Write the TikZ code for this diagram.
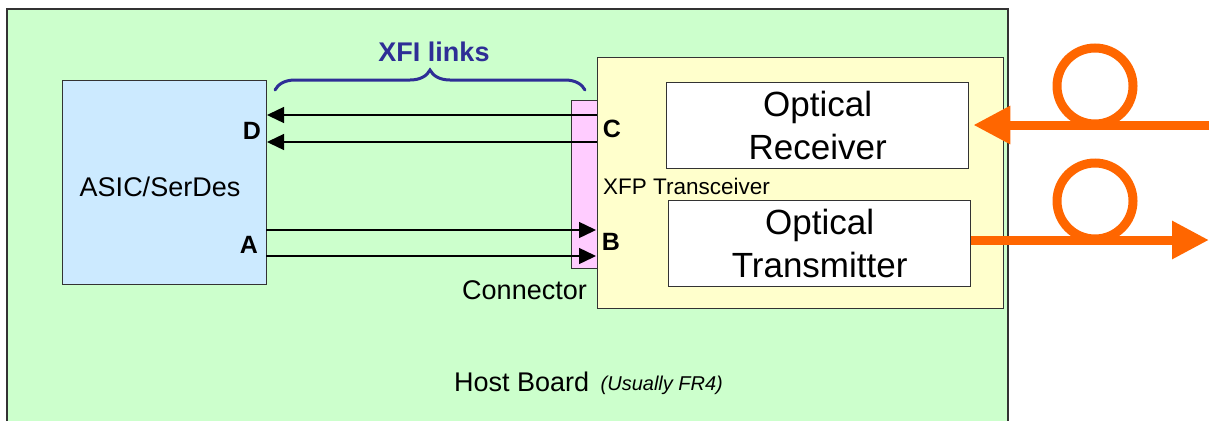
\documentclass[tikz,border=0pt]{standalone}
\usepackage{fontspec}
\setmainfont{Liberation Sans}
\usetikzlibrary{positioning,calc}
\usetikzlibrary{arrows.meta,decorations.pathreplacing}
\definecolor{BoardGreen}{RGB}{204,255,204}
\definecolor{AsicBlue}{RGB}{204,234,255}
\definecolor{ConnPink}{RGB}{255,204,255}
\definecolor{XfpYellow}{RGB}{255,255,204}
\definecolor{FiberOrange}{RGB}{255,102,0}
\definecolor{LinkBlue}{RGB}{46,46,150}
\tikzset{
  block/.style={draw=black!80,line width=1.3pt,inner sep=0pt,anchor=north west},
  optbox/.style={block,fill=white,align=center,font=\fontsize{35}{43}\selectfont},
  lab/.style={inner sep=0pt,font=\fontsize{25}{30}\selectfont\bfseries},
  txt/.style={inner sep=0pt,font=\fontsize{27}{32}\selectfont},
  link/.style={draw=black,line width=1.4pt,-{Triangle[length=17pt,width=16pt]}},
  fiber/.style={draw=FiberOrange,line width=9pt},
}
\tikzset{fibertip/.style={fiber,-{Triangle[length=37pt,width=36pt]}}}

\begin{document}
\begin{tikzpicture}[x=1pt,y=-1pt]
\useasboundingbox (0,0) rectangle (1214,421);
% host board, open at the bottom
\fill[BoardGreen] (7,9) rectangle (1008,421);
\draw[black!80,line width=1.3pt] (7,421) -- (7,9) -- (1008,9) -- (1008,421);
\node[txt,anchor=west] (host) at (454,382) {Host Board};
\node[inner sep=0pt,font=\fontsize{20}{24}\selectfont\itshape,right=11pt of host.east,yshift=-3pt] (fr4) {(Usually FR4)};
% blocks
\node[block,fill=AsicBlue,minimum width=204pt,minimum height=204pt] (asic) at (62,80) {};
\node[txt] (asiclab) at (160,187) {ASIC/SerDes};
\node[block,fill=XfpYellow,minimum width=406pt,minimum height=251pt] (xfp) at (597,57) {};
\node[block,fill=ConnPink,minimum width=26pt,minimum height=168pt] (conn) at (571,100) {};
\node[txt,anchor=east] (connlab) at (587,290) {Connector};
\node[inner sep=0pt,font=\fontsize{22.5}{27}\selectfont,anchor=west] (xfplab) at (603,186) {XFP Transceiver};
\node[optbox,minimum width=302pt,minimum height=86pt] (rx) at (666,82) {Optical\\Receiver};
\node[optbox,minimum width=302pt,minimum height=86pt] (tx) at (668,200) {Optical\\Transmitter};
% port letters
\node[lab] (pD) at (252,131) {D};
\node[lab] (pA) at (249,245) {A};
\node[lab] (pC) at (612,129) {C};
\node[lab] (pB) at (611,242) {B};
% XFI links
\coordinate (c1) at (597,115);
\coordinate (c2) at (597,142);
\coordinate (d1) at (267,115);
\coordinate (d2) at (267,142);
\coordinate (a1) at (266,230);
\coordinate (a2) at (266,256);
\coordinate (b1) at (596,230);
\coordinate (b2) at (596,256);
\draw[link] (c1) -- (d1);
\draw[link] (c2) -- (d2);
\draw[link] (a1) -- (b1);
\draw[link] (a2) -- (b2);
\coordinate (brL) at (275,90);
\coordinate (brR) at (585,90);
\draw[LinkBlue,line width=3pt,line cap=round,decorate,decoration={brace,amplitude=20pt,aspect=0.5}] (brL) -- (brR);
\node[inner sep=0pt,font=\fontsize{27}{32}\selectfont\bfseries,text=LinkBlue] (xfi) at (434,52) {XFI links};
% fibres
\coordinate (rxin) at (1209,125);
\coordinate (txout) at (1209,240);
\draw[fiber] (1095,86) circle (38pt);
\draw[fiber] (1095,201) circle (38pt);
\draw[fibertip] (rxin) -- ([xshift=4pt]rx.east |- rxin);
\draw[fibertip] (tx.east |- txout) -- (txout);
\end{tikzpicture}
\end{document}
